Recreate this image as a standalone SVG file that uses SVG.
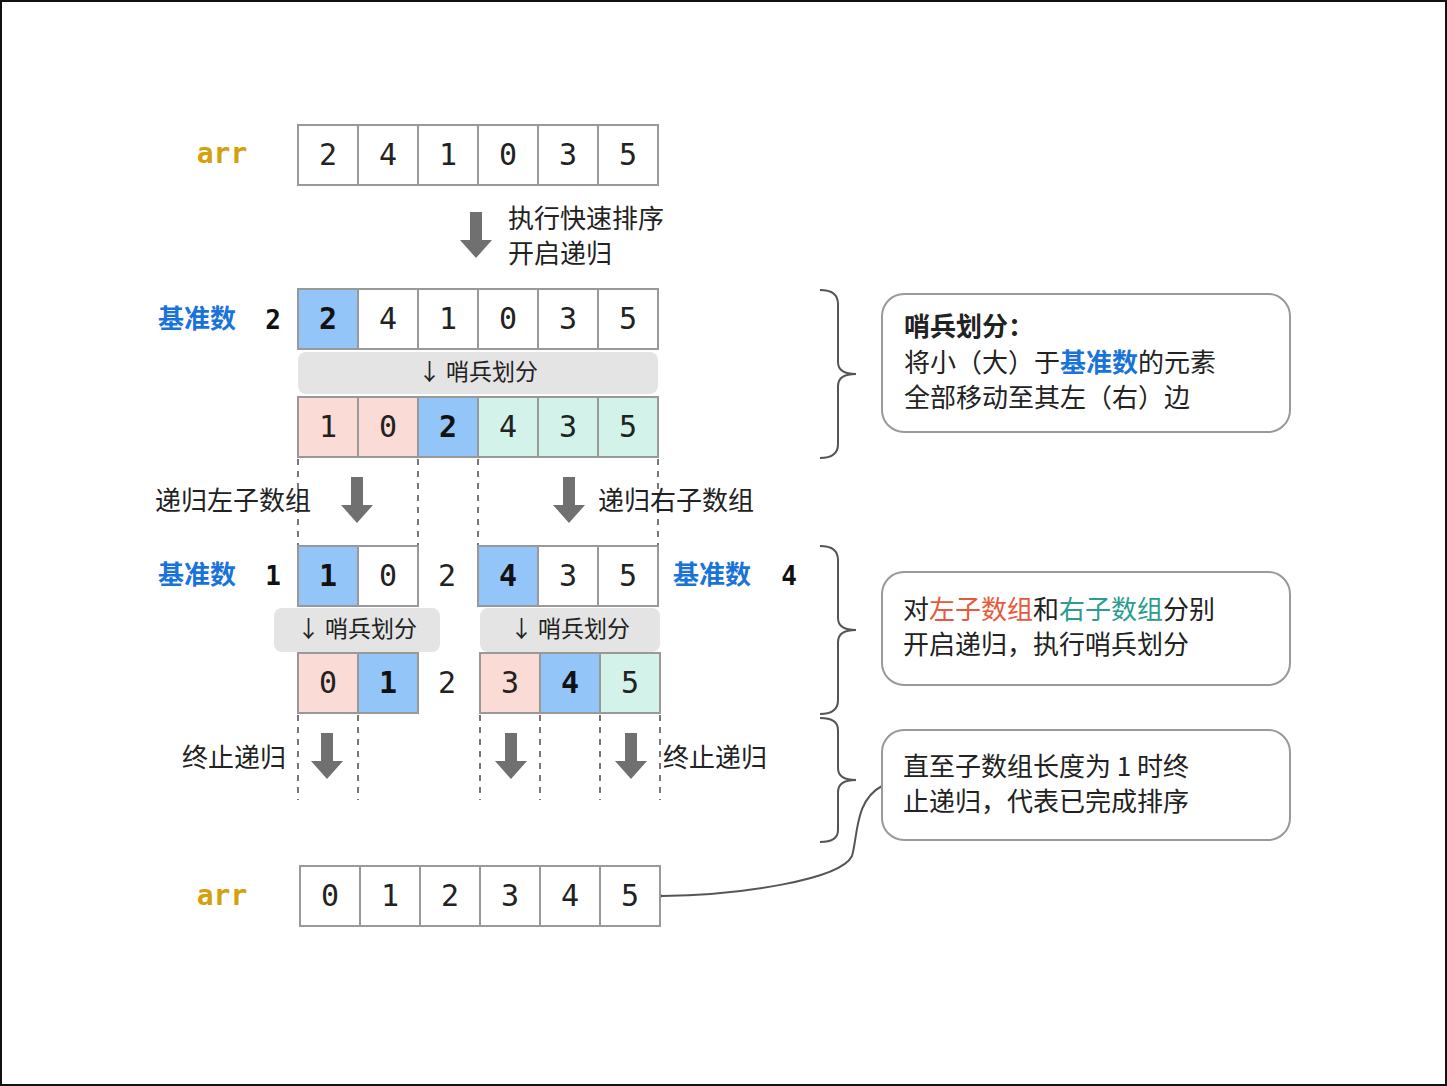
<svg xmlns="http://www.w3.org/2000/svg" width="1447" height="1086" viewBox="0 0 1447 1086">
<style>
.c{stroke:#999;stroke-width:2}
.w{fill:#fff}.b{fill:#94c5f9}.p{fill:#fadbd5}.m{fill:#d3f2ea}
.n{font-family:"DejaVu Sans Mono",monospace;font-size:30px;text-anchor:middle;fill:#222}
.nb{font-weight:bold;fill:#111}
.t{font-family:"Noto Sans CJK SC",sans-serif;font-size:26px;fill:#222}
.bl{fill:#1a73d9;font-weight:bold}
.g{fill:#e4e4e4}
.d{stroke:#777;stroke-width:2;stroke-dasharray:6 6;fill:none}
.ar{fill:#707070}
.br{fill:none;stroke:#555;stroke-width:2}
.bx{fill:#fff;stroke:#999;stroke-width:2}
</style>
<defs>
<path id="da" d="M-6,-22 h12 v28 h10 l-16,18 l-16,-18 h10 z"/>
<marker id="oa" markerWidth="14" markerHeight="14" refX="1" refY="7" orient="auto" markerUnits="userSpaceOnUse"><path d="M13,1 L1,7 L13,13" fill="none" stroke="#555" stroke-width="2"/></marker>
</defs>
<rect x="1" y="1" width="1445" height="1084" fill="#fff" stroke="#111" stroke-width="2"/>
<g id="arr1">
<text x="222" y="163" font-family="DejaVu Sans Mono,monospace" font-size="28" font-weight="bold" fill="#d4a00c" text-anchor="middle">arr</text>
<rect class="c w" x="298" y="125" width="60" height="60"/><rect class="c w" x="358" y="125" width="60" height="60"/><rect class="c w" x="418" y="125" width="60" height="60"/><rect class="c w" x="478" y="125" width="60" height="60"/><rect class="c w" x="538" y="125" width="60" height="60"/><rect class="c w" x="598" y="125" width="60" height="60"/>
<text class="n" x="328" y="165">2</text><text class="n" x="388" y="165">4</text><text class="n" x="448" y="165">1</text><text class="n" x="508" y="165">0</text><text class="n" x="568" y="165">3</text><text class="n" x="628" y="165">5</text>
</g>
<g id="step1">
<use href="#da" x="476" y="234" class="ar"/>
<text class="t" x="508" y="228">执行快速排序</text><text class="t" x="508" y="263">开启递归</text>
</g>
<g id="row2">
<text class="t bl" x="158" y="328">基准数</text><text class="n nb" x="273" y="329" style="font-size:26px">2</text>
<rect class="c b" x="298" y="289" width="60" height="60"/><rect class="c w" x="358" y="289" width="60" height="60"/><rect class="c w" x="418" y="289" width="60" height="60"/><rect class="c w" x="478" y="289" width="60" height="60"/><rect class="c w" x="538" y="289" width="60" height="60"/><rect class="c w" x="598" y="289" width="60" height="60"/>
<text class="n nb" x="328" y="329">2</text><text class="n" x="388" y="329">4</text><text class="n" x="448" y="329">1</text><text class="n" x="508" y="329">0</text><text class="n" x="568" y="329">3</text><text class="n" x="628" y="329">5</text>
<rect class="g" x="298" y="352" width="360" height="42" rx="8"/>
<text class="t" x="478" y="380" text-anchor="middle" style="font-size:23px">↓ 哨兵划分</text>
<rect class="c p" x="298" y="397" width="60" height="60"/><rect class="c p" x="358" y="397" width="60" height="60"/><rect class="c b" x="418" y="397" width="60" height="60"/><rect class="c m" x="478" y="397" width="60" height="60"/><rect class="c m" x="538" y="397" width="60" height="60"/><rect class="c m" x="598" y="397" width="60" height="60"/>
<text class="n" x="328" y="437">1</text><text class="n" x="388" y="437">0</text><text class="n nb" x="448" y="437">2</text><text class="n" x="508" y="437">4</text><text class="n" x="568" y="437">3</text><text class="n" x="628" y="437">5</text>
</g>
<g id="connectors">
<path class="d" d="M298,459V545M418,459V545M478,459V545M658,459V545M298,715V800M358,715V800M480,715V800M540,715V800M600,715V800M660,715V800"/>
<use href="#da" x="357" y="499" class="ar"/><use href="#da" x="569" y="499" class="ar"/>
<use href="#da" x="327" y="755" class="ar"/><use href="#da" x="511" y="755" class="ar"/><use href="#da" x="631" y="755" class="ar"/>
<path class="br" d="M820,290 q18,0 18,14 v58 q0,12 18,12 q-18,0 -18,12 v58 q0,14 -18,14"/>
<path class="br" d="M820,546 q18,0 18,14 v58 q0,12 18,12 q-18,0 -18,12 v58 q0,14 -18,14"/>
<path class="br" d="M820,718 q18,0 18,12 v38 q0,12 18,12 q-18,0 -18,12 v38 q0,12 -18,12"/>
<path d="M882,786 C855,800 858,835 852,856 C840,880 740,895 662,896" fill="none" stroke="#555" stroke-width="2" marker-end="url(#oa)"/>
</g>
<g id="labels">
<text class="t" x="155" y="510">递归左子数组</text><text class="t" x="598" y="510">递归右子数组</text>
<text class="t" x="182" y="767">终止递归</text><text class="t" x="663" y="767">终止递归</text>
</g>
<g id="row4">
<text class="t bl" x="158" y="584">基准数</text><text class="n nb" x="273" y="585" style="font-size:26px">1</text>
<rect class="c b" x="298" y="546" width="60" height="60"/><rect class="c w" x="358" y="546" width="60" height="60"/>
<text class="n nb" x="328" y="586">1</text><text class="n" x="388" y="586">0</text><text class="n" x="447" y="586">2</text>
<rect class="c b" x="478" y="546" width="60" height="60"/><rect class="c w" x="538" y="546" width="60" height="60"/><rect class="c w" x="598" y="546" width="60" height="60"/>
<text class="n nb" x="508" y="586">4</text><text class="n" x="568" y="586">3</text><text class="n" x="628" y="586">5</text>
<text class="t bl" x="673" y="584">基准数</text><text class="n nb" x="789" y="585" style="font-size:26px">4</text>
<rect class="g" x="274" y="608" width="166" height="44" rx="8"/><text class="t" x="357" y="637" text-anchor="middle" style="font-size:23px">↓ 哨兵划分</text>
<rect class="g" x="480" y="608" width="180" height="44" rx="8"/><text class="t" x="570" y="637" text-anchor="middle" style="font-size:23px">↓ 哨兵划分</text>
<rect class="c p" x="298" y="653" width="60" height="60"/><rect class="c b" x="358" y="653" width="60" height="60"/>
<text class="n" x="328" y="693">0</text><text class="n nb" x="388" y="693">1</text><text class="n" x="447" y="693">2</text>
<rect class="c p" x="480" y="653" width="60" height="60"/><rect class="c b" x="540" y="653" width="60" height="60"/><rect class="c m" x="600" y="653" width="60" height="60"/>
<text class="n" x="510" y="693">3</text><text class="n nb" x="570" y="693">4</text><text class="n" x="630" y="693">5</text>
</g>
<g id="arr2">
<text x="222" y="905" font-family="DejaVu Sans Mono,monospace" font-size="28" font-weight="bold" fill="#d4a00c" text-anchor="middle">arr</text>
<rect class="c w" x="300" y="866" width="60" height="60"/><rect class="c w" x="360" y="866" width="60" height="60"/><rect class="c w" x="420" y="866" width="60" height="60"/><rect class="c w" x="480" y="866" width="60" height="60"/><rect class="c w" x="540" y="866" width="60" height="60"/><rect class="c w" x="600" y="866" width="60" height="60"/>
<text class="n" x="330" y="906">0</text><text class="n" x="390" y="906">1</text><text class="n" x="450" y="906">2</text><text class="n" x="510" y="906">3</text><text class="n" x="570" y="906">4</text><text class="n" x="630" y="906">5</text>
</g>
<g id="note1">
<rect class="bx" x="882" y="294" width="408" height="138" rx="22"/>
<text class="t" x="904" y="336" font-weight="bold">哨兵划分：</text>
<text class="t" x="904" y="372">将小（大）于<tspan fill="#1a73d9" font-weight="bold">基准数</tspan>的元素</text>
<text class="t" x="904" y="407">全部移动至其左（右）边</text>
</g>
<g id="note2">
<rect class="bx" x="882" y="572" width="408" height="113" rx="22"/>
<text class="t" x="903" y="619">对<tspan fill="#e8583a">左子数组</tspan>和<tspan fill="#2a9d8f">右子数组</tspan>分别</text>
<text class="t" x="903" y="654">开启递归，执行哨兵划分</text>
</g>
<g id="note3">
<rect class="bx" x="882" y="730" width="408" height="110" rx="22"/>
<text class="t" x="903" y="776" xml:space="preserve">直至子数组长度为 1 时终</text>
<text class="t" x="903" y="811">止递归，代表已完成排序</text>
</g>
</svg>
